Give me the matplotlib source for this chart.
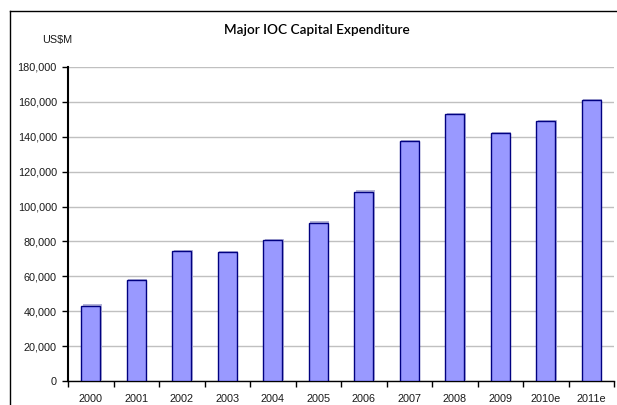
import matplotlib
matplotlib.use("Agg")
import matplotlib.pyplot as plt
import matplotlib.transforms as mtransforms
from matplotlib.lines import Line2D
import numpy as np

years = ["2000", "2001", "2002", "2003", "2004", "2005", "2006", "2007",
         "2008", "2009", "2010e", "2011e"]
capex = [43000, 57800, 74300, 73800, 80600, 90800, 108500, 137500,
         152800, 142000, 148900, 161000]
y_ticks = [0, 20000, 40000, 60000, 80000, 100000, 120000, 140000, 160000, 180000]

W, H = 617, 405
fig = plt.figure(figsize=(W / 100, H / 100), dpi=100)
fig.patch.set_facecolor("white")

# outer chart frame: only its top and left edges fall inside the image
bx, by = 10.5 / W, 1 - 10.5 / H
fig.add_artist(Line2D([bx, 1.0], [by, by], transform=fig.transFigure,
                      color="#000000", linewidth=1.0))
fig.add_artist(Line2D([bx, bx], [0.0, by], transform=fig.transFigure,
                      color="#000000", linewidth=1.0))

left, right, top, bottom = 68, 614, 67, 381
ax = fig.add_axes([left / W, 1 - bottom / H, (right - left) / W, (bottom - top) / H])

x = np.arange(len(years))
# soft drop shadow behind each bar
shadow = ax.transData + mtransforms.ScaledTranslation(1.5 / 100, 1.5 / 100, fig.dpi_scale_trans)
ax.bar(x, capex, width=0.42, color="#b4b4d8", edgecolor="none",
       transform=shadow, zorder=2)
ax.bar(x, capex, width=0.42, color="#9999ff", edgecolor="#000080",
       linewidth=1.0, zorder=3)

ax.set_xlim(-0.5, len(years) - 0.5)
ax.set_ylim(0, 180000)
ax.set_yticks(y_ticks)
ax.set_yticklabels([f"{v:,}" for v in y_ticks])
ax.yaxis.grid(True, color="#c0c0c0", linewidth=1.0, zorder=0)
ax.set_axisbelow(True)

ax.set_xticks(x)
ax.set_xticklabels(years)
ax.set_xticks(np.arange(-0.5, len(years)), minor=True)
ax.tick_params(axis="x", which="major", length=0, pad=9)
ax.tick_params(axis="x", which="minor", length=4, width=1.0, direction="out", color="#000000")
ax.tick_params(axis="y", length=4, width=1.0, direction="out", pad=4)
ax.tick_params(labelsize=7.8, labelcolor="#1a1a1a")
for lbl in ax.get_xticklabels() + ax.get_yticklabels():
    lbl.set_family("Liberation Sans")

for s in ("top", "right"):
    ax.spines[s].set_visible(False)
ax.spines["left"].set_linewidth(1.5)
ax.spines["bottom"].set_linewidth(1.0)

fig.text(317 / W, 1 - 30 / H, "Major IOC Capital Expenditure", ha="center", va="center",
         fontsize=9.8, family="Lato", fontweight="semibold", color="#000000")
fig.text(57 / W, 1 - 40 / H, "US$M", ha="center", va="center",
         fontsize=7.8, family="Liberation Sans", color="#1a1a1a")

fig.savefig("out.png", dpi=100)
